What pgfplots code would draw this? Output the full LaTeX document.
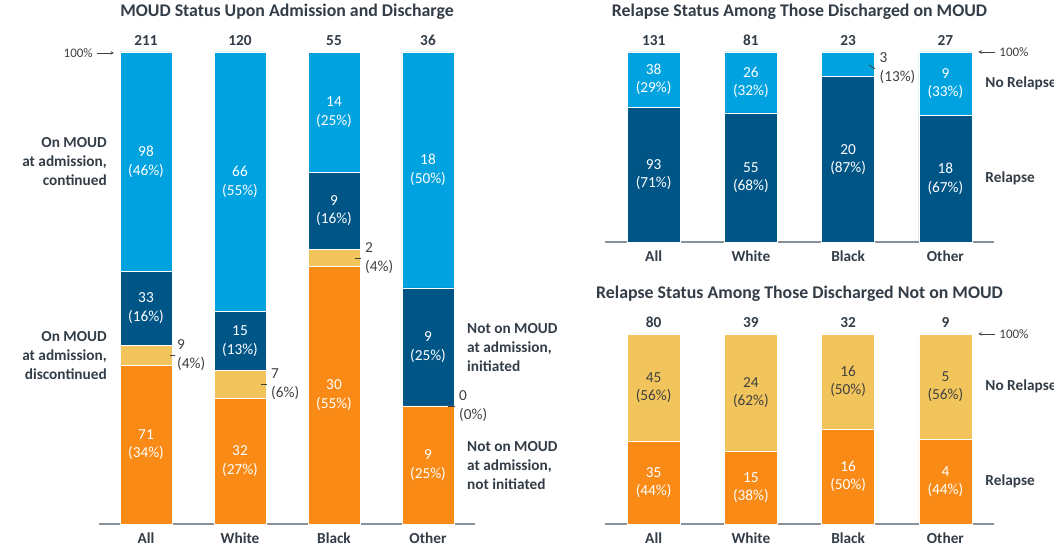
\documentclass[border=0pt]{standalone}
\usepackage{pgfplots}
\pgfplotsset{compat=1.18}
\usepackage{pgfplotstable}
\usepackage{fontspec}
\setmainfont{Carlito}
\definecolor{lblue}{HTML}{00A3E0}
\definecolor{dblue}{HTML}{005587}
\definecolor{yel}{HTML}{F2C55C}
\definecolor{ora}{HTML}{F98A15}
\definecolor{ttl}{HTML}{333D47}
\definecolor{txt}{HTML}{404040}
\definecolor{axg}{HTML}{8A9299}

% bottom to top: a = not on, not initiated; b = on, discontinued; c = not on, initiated; d = on, continued
\pgfplotstableread{
x n a b c d pa pb pc pd
0 211 71 9 33 98 34 4 16 46
1 120 32 7 15 66 27 6 13 55
2 55 30 2 9 14 55 4 16 25
3 36 9 0 9 18 25 0 25 50
}\moud
\pgfplotstableread{
x n r nr pr pnr
0 131 93 38 71 29
1 81 55 26 68 32
2 23 20 3 87 13
3 27 18 9 67 33
}\onmoud
\pgfplotstableread{
x n r nr pr pnr
0 80 35 45 44 56
1 39 15 24 38 62
2 32 16 16 50 50
3 9 4 5 44 56
}\notmoud

\newcommand{\lab}{\fontsize{15.3}{18.5}\selectfont}
\newcommand{\blab}{\fontsize{15.3}{19}\selectfont\bfseries}
\newcommand{\smlab}{\fontsize{13}{15}\selectfont}

\pgfplotsset{
  /pgf/number format/assume math mode=true,
  base/.style={scale only axis, clip=false, xmin=-0.5, xmax=3.5, ymin=0, ymax=100, anchor=south west},
  barax/.style={base, ybar stacked, axis x line*=bottom, axis y line=none,
     x axis line style={-, draw=axg, line width=1.3pt},
     xtick={0,1,2,3}, xticklabels={All,White,Black,Other}, major tick length=0pt,
     xticklabel style={anchor=base, yshift=-20pt, font=\blab, text=ttl},
     title style={at={(0.5,1)}, anchor=base, yshift=29pt, font=\fontsize{17.8}{20}\selectfont\bfseries, text=ttl}},
  labax/.style={base, hide axis},
  seg/.style={fill=#1, draw=white, line width=0.6pt},
  inlab/.style={draw=none, mark=none,
     nodes near coords={\pgfmathprintnumber{\pgfplotspointmeta}\\(\pgfmathprintnumber{\pct}\%)},
     every node near coord/.append style={anchor=center, align=center, text=#1, font=\lab}},
  outlab/.style={draw=none, mark=none,
     nodes near coords={\pgfmathprintnumber{\pgfplotspointmeta}\\(\pgfmathprintnumber{\pct}\%)},
     every node near coord/.append style={anchor=west, align=left, text=txt, font=\lab, inner sep=0pt}},
  cnt/.style={draw=none, mark=none,
     nodes near coords={\pgfmathprintnumber{\pgfplotspointmeta}},
     every node near coord/.append style={anchor=base, yshift=6pt, font=\blab, text=ttl}},
  leader/.style={txt, line width=0.8pt, mark=none},
}
\tikzset{side/.style={font=\blab, text=ttl, inner sep=0pt},
         hundred/.style={font=\smlab, text=txt, inner sep=0pt},
         harrow/.style={->, >=stealth, txt, line width=0.6pt}}

\begin{document}
\begin{tikzpicture}
\path[use as bounding box] (0,0) rectangle (1054pt,548pt);

% ---------------- Left panel ----------------
\begin{axis}[barax, at={(99pt,24pt)}, width=376pt, height=472pt, bar width=52pt,
  title={MOUD Status Upon Admission and Discharge}]
\addplot[seg=ora] table[x=x, y expr=\thisrow{a}/\thisrow{n}*100]{\moud};
\addplot[seg=yel] table[x=x, y expr=\thisrow{b}/\thisrow{n}*100]{\moud};
\addplot[seg=dblue] table[x=x, y expr=\thisrow{c}/\thisrow{n}*100]{\moud};
\addplot[seg=lblue] table[x=x, y expr=\thisrow{d}/\thisrow{n}*100]{\moud};
\draw[harrow] (axis cs:-0.521,99.8) -- (axis cs:-0.34,99.8);
\node[anchor=east, hundred] at (axis cs:-0.564,99.8) {100\%};
\end{axis}
\begin{axis}[labax, at={(99pt,24pt)}, width=376pt, height=472pt]
\addplot[inlab=white, point meta=\thisrow{a}, visualization depends on={\thisrow{pa}\as\pct}]
  table[x=x, y expr=0.5*\thisrow{a}/\thisrow{n}*100]{\moud};
\addplot[inlab=white, point meta=\thisrow{c}, visualization depends on={\thisrow{pc}\as\pct}]
  table[x=x, y expr=(\thisrow{a}+\thisrow{b}+0.5*\thisrow{c})/\thisrow{n}*100]{\moud};
\addplot[inlab=white, point meta=\thisrow{d}, visualization depends on={\thisrow{pd}\as\pct}]
  table[x=x, y expr=(\thisrow{a}+\thisrow{b}+\thisrow{c}+0.5*\thisrow{d})/\thisrow{n}*100]{\moud};
\addplot[outlab, point meta=\thisrow{b}, visualization depends on={\thisrow{pb}\as\pct}]
  table[x expr=\thisrow{x}+0.33, y expr=(\thisrow{a}+0.5*\thisrow{b})/\thisrow{n}*100]{\moud};
\addplot[cnt, point meta=\thisrow{n}] table[x=x, y expr=100]{\moud};
\addplot[leader] coordinates {(0.25,35.78) (0.31,35.78)};
\addplot[leader] coordinates {(1.22,29.58) (1.29,29.58)};
\addplot[leader] coordinates {(2.22,56.36) (2.29,56.36)};
\addplot[leader] coordinates {(3.21,25.0) (3.29,25.0)};
\node[anchor=east, align=right, side] at (axis cs:-0.415,76.8) {On MOUD\\at admission,\\continued};
\node[anchor=east, align=right, side] at (axis cs:-0.415,35.6) {On MOUD\\at admission,\\discontinued};
\node[anchor=west, align=left, side] at (axis cs:3.415,37.4) {Not on MOUD\\at admission,\\initiated};
\node[anchor=west, align=left, side] at (axis cs:3.415,12.4) {Not on MOUD\\at admission,\\not initiated};
\end{axis}

% ---------------- Right top panel ----------------
\begin{axis}[barax, at={(605pt,306pt)}, width=389pt, height=190pt, bar width=53pt,
  title={Relapse Status Among Those Discharged on MOUD}]
\addplot[seg=dblue] table[x=x, y expr=\thisrow{r}/\thisrow{n}*100]{\onmoud};
\addplot[seg=lblue] table[x=x, y expr=\thisrow{nr}/\thisrow{n}*100]{\onmoud};
\draw[harrow] (axis cs:3.513,100) -- (axis cs:3.338,100);
\node[anchor=west, hundred] at (axis cs:3.554,100) {100\%};
\end{axis}
\begin{axis}[labax, at={(605pt,306pt)}, width=389pt, height=190pt]
\addplot[inlab=white, point meta=\thisrow{r}, visualization depends on={\thisrow{pr}\as\pct}]
  table[x=x, y expr=0.5*\thisrow{r}/\thisrow{n}*100]{\onmoud};
\addplot[inlab=white, skip coords between index={2}{3}, point meta=\thisrow{nr}, visualization depends on={\thisrow{pnr}\as\pct}]
  table[x=x, y expr=(\thisrow{r}+0.5*\thisrow{nr})/\thisrow{n}*100]{\onmoud};
\addplot[outlab, restrict x to domain=2.1:2.5, point meta=\thisrow{nr}, visualization depends on={\thisrow{pnr}\as\pct},
  every node near coord/.append style={yshift=-3.5pt}]
  table[x expr=\thisrow{x}+0.322, y expr=(\thisrow{r}+0.5*\thisrow{nr})/\thisrow{n}*100]{\onmoud};
\addplot[cnt, point meta=\thisrow{n}] table[x=x, y expr=100]{\onmoud};
\addplot[leader] coordinates {(2.215,93.2) (2.277,91.1)};
\node[anchor=west, side] at (axis cs:3.41,83.3) {No Relapse};
\node[anchor=west, side] at (axis cs:3.41,33.3) {Relapse};
\end{axis}

% ---------------- Right bottom panel ----------------
\begin{axis}[barax, at={(605pt,24pt)}, width=389pt, height=190pt, bar width=53pt,
  title={Relapse Status Among Those Discharged Not on MOUD}]
\addplot[seg=ora] table[x=x, y expr=\thisrow{r}/\thisrow{n}*100]{\notmoud};
\addplot[seg=yel] table[x=x, y expr=\thisrow{nr}/\thisrow{n}*100]{\notmoud};
\draw[harrow] (axis cs:3.513,100) -- (axis cs:3.338,100);
\node[anchor=west, hundred] at (axis cs:3.554,100) {100\%};
\end{axis}
\begin{axis}[labax, at={(605pt,24pt)}, width=389pt, height=190pt]
\addplot[inlab=white, point meta=\thisrow{r}, visualization depends on={\thisrow{pr}\as\pct}]
  table[x=x, y expr=0.5*\thisrow{r}/\thisrow{n}*100]{\notmoud};
\addplot[inlab=txt, point meta=\thisrow{nr}, visualization depends on={\thisrow{pnr}\as\pct}]
  table[x=x, y expr=(\thisrow{r}+0.5*\thisrow{nr})/\thisrow{n}*100]{\notmoud};
\addplot[cnt, point meta=\thisrow{n}] table[x=x, y expr=100]{\notmoud};
\node[anchor=west, side] at (axis cs:3.41,72.2) {No Relapse};
\node[anchor=west, side] at (axis cs:3.41,22.2) {Relapse};
\end{axis}
\end{tikzpicture}
\end{document}
